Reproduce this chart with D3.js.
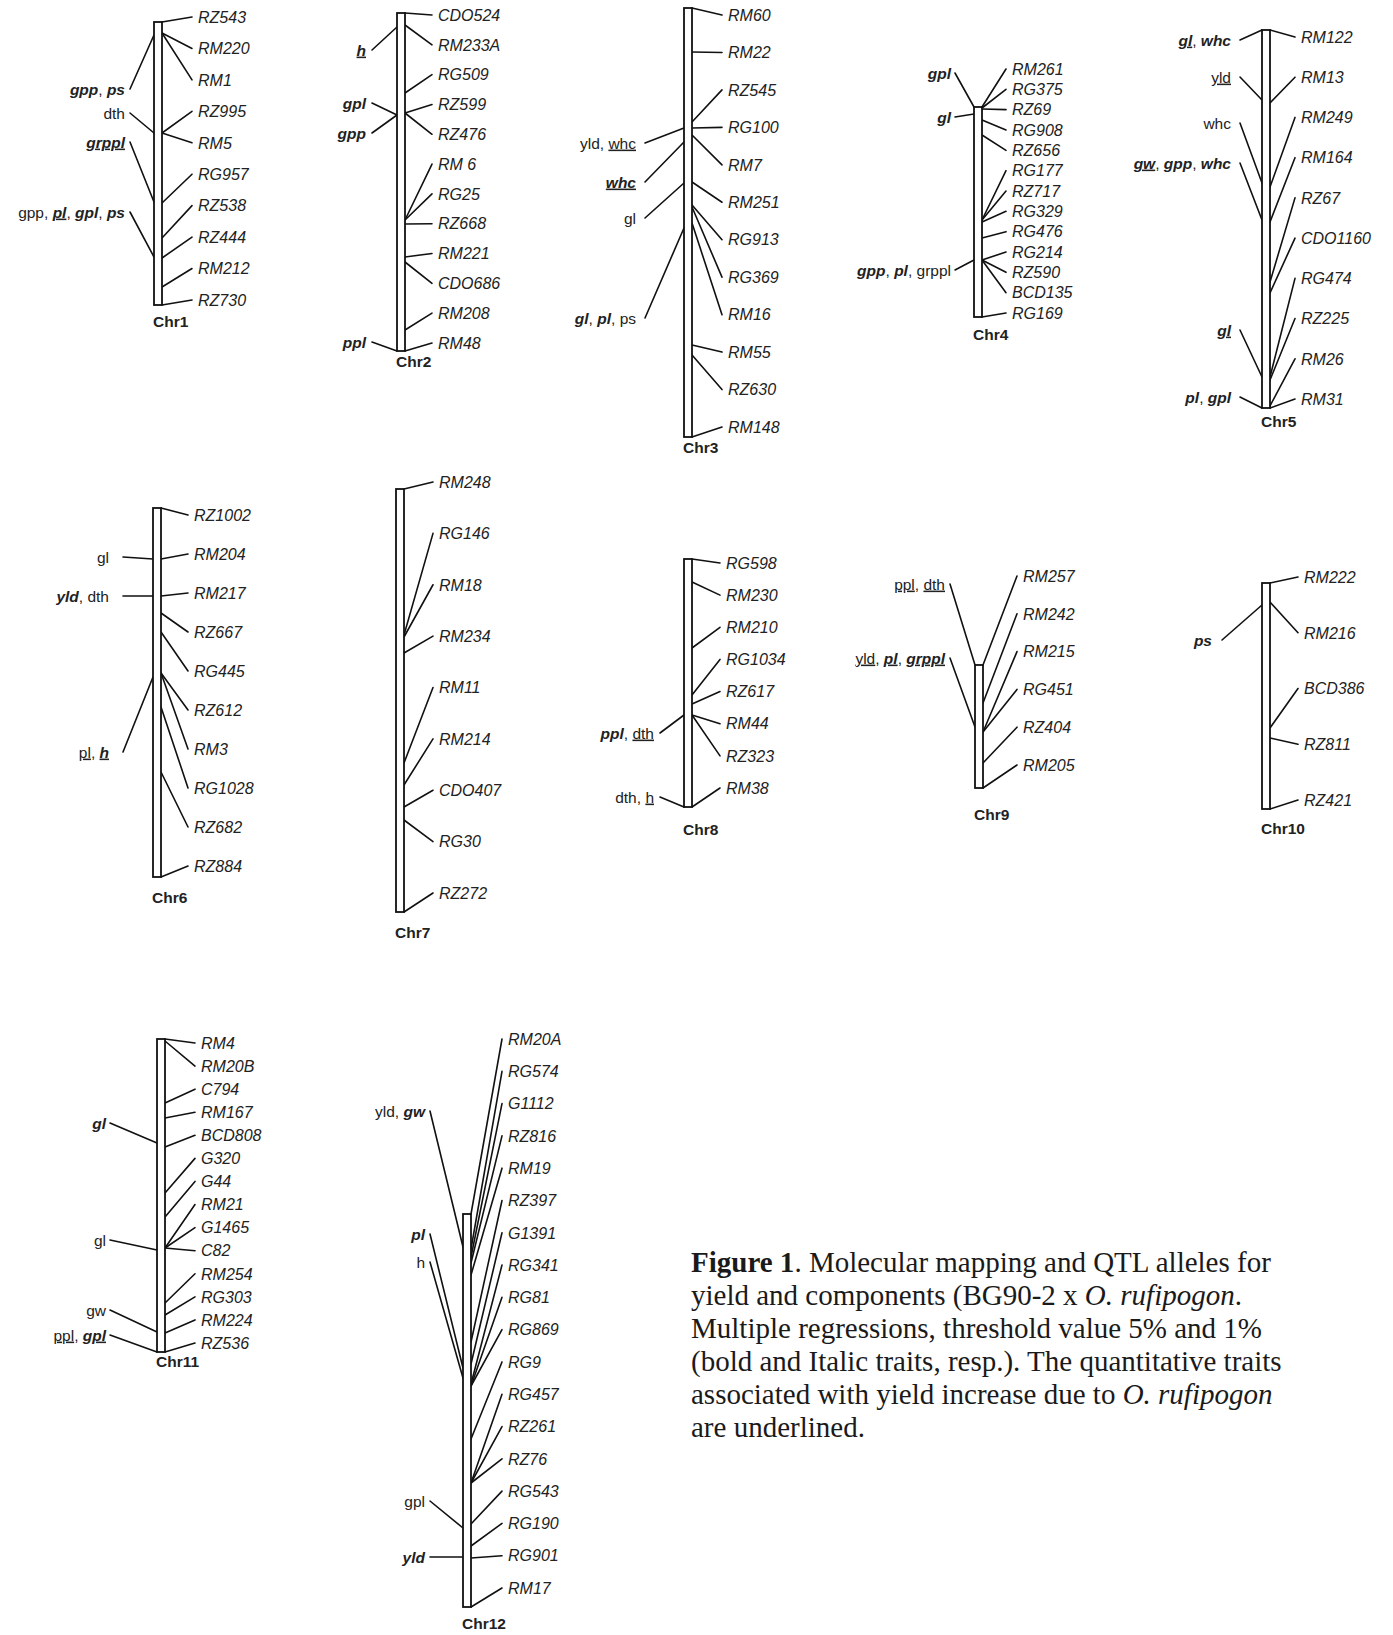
<!DOCTYPE html>
<html>
<head>
<meta charset="utf-8">
<script src="https://cdn.jsdelivr.net/npm/d3@7"></script>
<style>
  body { margin: 0; background: #fff; }
  svg { display: block; }
  .mk { font-family: "Liberation Sans", Arial, sans-serif; font-style: italic; font-size: 16px; fill: #222; }
  .qt { font-family: "Liberation Sans", Arial, sans-serif; font-size: 15.5px; fill: #222; }
  .chr { font-family: "Liberation Sans", Arial, sans-serif; font-weight: bold; font-size: 15.5px; fill: #222; }
  .cap { font-family: "Liberation Serif", "Times New Roman", serif; font-size: 29px; fill: #1a1a1a; }
</style>
</head>
<body>
<svg id="fig" width="1393" height="1635"></svg>
<script>
// Linkage groups and their map lengths (cM)
const chromosomes = ["Chr1","Chr2","Chr3","Chr4","Chr5","Chr6","Chr7","Chr8","Chr9","Chr10","Chr11","Chr12"];
const chrLengthCM = [141.5, 169, 214.5, 105, 189, 184.5, 211.5, 124, 61.5, 113, 156.5, 196.5];

// Markers: [name, map position in cM]
const chr1Markers = [["RZ543",0],["RM220",5.5],["RM1",5.5],["RZ995",55.5],["RM5",55.5],["RG957",90.5],["RZ538",108],["RZ444",118],["RM212",132.5],["RZ730",141.5]];
const chr2Markers = [["CDO524",0],["RM233A",6],["RG509",40],["RZ599",50],["RZ476",50],["RM 6",103.5],["RG25",103.5],["RZ668",105.5],["RM221",122],["CDO686",124.5],["RM208",158.5],["RM48",169]];
const chr3Markers = [["RM60",0],["RM22",22],["RZ545",57],["RG100",60],["RM7",63.5],["RM251",87],["RG913",98.5],["RG369",99.5],["RM16",107.5],["RM55",168.5],["RZ630",173.5],["RM148",214.5]];
const chr4Markers = [["RM261",0],["RG375",0.5],["RZ69",1],["RG908",6.5],["RZ656",14],["RG177",56.5],["RZ717",56.5],["RG329",57.5],["RG476",65.5],["RG214",76.5],["RZ590",76.5],["BCD135",76.5],["RG169",105]];
const chr5Markers = [["RM122",0],["RM13",36.5],["RM249",78.5],["RM164",96],["RZ67",126],["CDO1160",131.5],["RG474",173.5],["RZ225",175],["RM26",188],["RM31",189]];
const chr6Markers = [["RZ1002",0],["RM204",25.5],["RM217",44],["RZ667",52.5],["RG445",62],["RZ612",82.5],["RM3",82.5],["RG1028",99.5],["RZ682",132],["RZ884",184.5]];
const chr7Markers = [["RM248",0],["RG146",73],["RM18",74],["RM234",82],["RM11",137],["RM214",148],["CDO407",159],["RG30",165.5],["RZ272",211.5]];
const chr8Markers = [["RG598",0],["RM230",11.5],["RM210",44.5],["RG1034",68],["RZ617",72.5],["RM44",78],["RZ323",78],["RM38",124]];
const chr9Markers = [["RM257",0],["RM242",19],["RM215",33.5],["RG451",33.5],["RZ404",49],["RM205",61.5]];
const chr10Markers = [["RM222",0],["RM216",9.5],["BCD386",72.5],["RZ811",77.5],["RZ421",113]];
const chr11Markers = [["RM4",0],["RM20B",1],["C794",32],["RM167",39.5],["BCD808",54],["G320",77],["G44",89],["RM21",104.5],["G1465",104.5],["C82",104.5],["RM254",132],["RG303",138],["RM224",147],["RZ536",156.5]];
const chr12Markers = [["RM20A",0],["RG574",17.5],["G1112",21.5],["RZ816",24.5],["RM19",30.5],["RZ397",64],["G1391",75],["RG341",85],["RG81",86],["RG869",86],["RG9",112.5],["RG457",134.5],["RZ261",134.5],["RZ76",134.5],["RG543",155],["RG190",166],["RG901",172],["RM17",196.5]];

// QTL alleles: [traits, map position in cM]
// trait code: trailing "*" = significant at the stricter threshold, leading "_" = increase from O. rufipogon
const chr1Qtls = [[["gpp*","ps*"],6.5],[["dth"],55.5],[["_grppl*"],90],[["gpp","_pl*","gpl*","ps*"],117.5]];
const chr2Qtls = [[["_h*"],7],[["gpl*"],51],[["gpp*"],51],[["ppl*"],169]];
const chr3Qtls = [[["yld","_whc"],60],[["_whc*"],67],[["gl"],87.5],[["gl*","pl*","ps"],110]];
const chr4Qtls = [[["gpl*"],0],[["gl*"],3.5],[["gpp*","pl*","grppl"],76.5]];
const chr5Qtls = [[["_gl*","whc*"],0],[["_yld"],35],[["whc"],76.5],[["_gw*","gpp*","whc*"],95],[["_gl*"],173.5],[["pl*","gpl*"],189]];
const chr6Qtls = [[["gl"],25.5],[["yld*","dth"],44],[["_pl","_h*"],84.5]];
const chr7Qtls = [];
const chr8Qtls = [[["ppl*","_dth"],78],[["dth","_h"],124]];
const chr9Qtls = [[["_ppl","_dth"],0],[["_yld","_pl*","_grppl*"],31]];
const chr10Qtls = [[["ps*"],11]];
const chr11Qtls = [[["gl*"],52],[["gl"],105.5],[["gw"],146.5],[["_ppl","_gpl*"],156.5]];
const chr12Qtls = [[["yld","gw*"],16.5],[["pl*"],77],[["h"],82],[["gpl"],157],[["yld*"],171.5]];

const markerSets = [chr1Markers, chr2Markers, chr3Markers, chr4Markers, chr5Markers, chr6Markers,
                    chr7Markers, chr8Markers, chr9Markers, chr10Markers, chr11Markers, chr12Markers];
const qtlSets = [chr1Qtls, chr2Qtls, chr3Qtls, chr4Qtls, chr5Qtls, chr6Qtls,
                 chr7Qtls, chr8Qtls, chr9Qtls, chr10Qtls, chr11Qtls, chr12Qtls];

// Page layout of each linkage group
const PX_PER_CM = 2, BAR_W = 8;
const layout = [
  {bx:154,  top:22,   mx:192,  qx:130,  qg:5,  labels:[17,300],    qtlY:[89,113,142,212],          chrY:327},
  {bx:397,  top:13,   mx:432,  qx:372,  qg:6,  labels:[15,343],    qtlY:[50,103,133,342],          chrY:367},
  {bx:684,  top:8,    mx:722,  qx:645,  qg:9,  labels:[15,427],    qtlY:[143,182,218,318],         chrY:453},
  {bx:974,  top:107,  mx:1006, qx:955,  qg:4,  labels:[69,313],    qtlY:[73,117,270],              chrY:340},
  {bx:1262, top:30,   mx:1295, qx:1240, qg:9,  labels:[37,399],    qtlY:[40,77,123,163,330,397],   chrY:427},
  {bx:153,  top:508,  mx:188,  qx:123,  qg:14, labels:[515,866],   qtlY:[557,596,752],             chrY:903},
  {bx:396,  top:489,  mx:433,  qx:0,    qg:5,  labels:[482,893],   qtlY:[],                        chrY:938},
  {bx:684,  top:559,  mx:720,  qx:660,  qg:6,  labels:[563,788],   qtlY:[733,797],                 chrY:835},
  {bx:975,  top:665,  mx:1017, qx:950,  qg:5,  labels:[576,765],   qtlY:[584,658],                 chrY:820},
  {bx:1262, top:583,  mx:1298, qx:1222, qg:10, labels:[577,800],   qtlY:[640],                     chrY:834},
  {bx:157,  top:1039, mx:195,  qx:110,  qg:4,  labels:[1043,1343], qtlY:[1123,1240,1310,1335],     chrY:1367},
  {bx:463,  top:1214, mx:502,  qx:430,  qg:5,  labels:[1039,1588], qtlY:[1111,1234,1262,1501,1557], chrY:1629}
];

const captionLines = [
  [["Figure 1","b"],[". Molecular mapping and QTL alleles for",""]],
  [["yield and components (BG90-2 x ",""],["O. rufipogon","i"],[".",""]],
  [["Multiple regressions, threshold value 5% and 1%",""]],
  [["(bold and Italic traits, resp.). The quantitative traits",""]],
  [["associated with yield increase due to ",""],["O. rufipogon","i"]],
  [["are underlined.",""]]
];

const svg = d3.select("#fig");
const ink = "#111";

function parseTrait(code) {
  const under = code.startsWith("_");
  const sig = code.endsWith("*");
  return {name: code.replace(/^_/, "").replace(/\*$/, ""), under, sig};
}

chromosomes.forEach((chr, i) => {
  const L = layout[i];
  const len = chrLengthCM[i];
  const y = d3.scaleLinear().domain([0, len]).range([L.top, L.top + len * PX_PER_CM]);
  const markers = markerSets[i];
  const labelY = d3.scaleLinear().domain([0, markers.length - 1]).range(L.labels);
  const g = svg.append("g").attr("class", "lg").attr("id", chr);
  const right = L.bx + BAR_W;

  // connector lines from map position to marker label
  g.selectAll("line.m").data(markers).join("line")
    .attr("class", "m")
    .attr("x1", right).attr("y1", d => y(d[1]))
    .attr("x2", L.mx).attr("y2", (d, k) => labelY(k))
    .attr("stroke", ink).attr("stroke-width", 1.6).attr("stroke-linecap", "round");

  g.selectAll("text.mk").data(markers).join("text")
    .attr("class", "mk")
    .attr("x", L.mx + 6).attr("y", (d, k) => labelY(k)).attr("dy", "0.36em")
    .text(d => d[0]);

  // QTL connectors and trait labels on the left
  const qtls = qtlSets[i];
  g.selectAll("line.q").data(qtls).join("line")
    .attr("class", "q")
    .attr("x1", L.qx).attr("y1", (d, k) => L.qtlY[k])
    .attr("x2", L.bx).attr("y2", d => y(d[1]))
    .attr("stroke", ink).attr("stroke-width", 1.6).attr("stroke-linecap", "round");

  const qt = g.selectAll("text.qt").data(qtls).join("text")
    .attr("class", "qt")
    .attr("x", L.qx - L.qg).attr("y", (d, k) => L.qtlY[k]).attr("dy", "0.36em")
    .attr("text-anchor", "end");
  qt.each(function(d) {
    const t = d3.select(this);
    d[0].map(parseTrait).forEach((tr, j) => {
      if (j > 0) t.append("tspan").text(", ");
      t.append("tspan")
        .text(tr.name)
        .style("font-weight", tr.sig ? "bold" : "normal")
        .style("font-style", tr.sig ? "italic" : "normal")
        .style("text-decoration", tr.under ? "underline" : "none");
    });
  });

  // chromosome bar drawn on top of the connectors
  g.append("rect")
    .attr("x", L.bx).attr("y", y(0))
    .attr("width", BAR_W).attr("height", y(len) - y(0))
    .attr("fill", "#fff").attr("stroke", ink).attr("stroke-width", 1.8);

  g.append("text").attr("class", "chr")
    .attr("x", L.bx - 1).attr("y", L.chrY).text(chr);
});

// Figure caption
const cap = svg.append("text").attr("class", "cap");
captionLines.forEach((line, k) => {
  line.forEach((part, j) => {
    const ts = cap.append("tspan").text(part[0]);
    if (j === 0) ts.attr("x", 691).attr("y", 1272 + k * 33);
    if (part[1] === "b") ts.style("font-weight", "bold");
    if (part[1] === "i") ts.style("font-style", "italic");
  });
});
</script>
</body>
</html>
